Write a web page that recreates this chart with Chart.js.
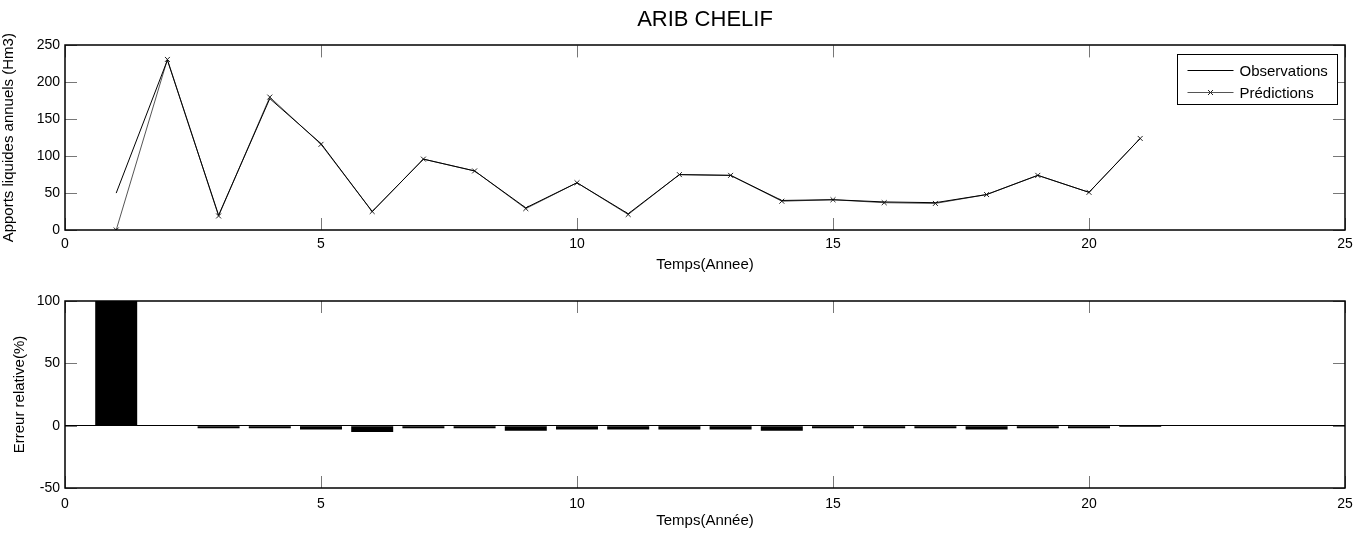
<!DOCTYPE html>
<html lang="fr">
<head>
  <meta charset="UTF-8">
  <title>ARIB CHELIF</title>
  <script src="https://cdn.jsdelivr.net/npm/chart.js"></script>
  <style>
    body {
      margin: 0;
      background: #ffffff;
      width: 1370px;
      height: 533px;
      overflow: hidden;
      position: relative;
    }
    canvas {
      position: absolute;
      left: 0;
    }
    #topChart { top: 0; }
    #bottomChart { top: 262px; }
  </style>
</head>
<body>
  <canvas id="topChart" width="1370" height="276"></canvas>
  <canvas id="bottomChart" width="1370" height="271"></canvas>
  <script>
    // Values
    const years = [1, 2, 3, 4, 5, 6, 7, 8, 9, 10, 11, 12, 13, 14, 15, 16, 17, 18, 19, 20, 21];
    const observations = [50, 230, 20, 178, 117, 25, 96, 80, 30, 64, 22, 75, 74, 40, 41, 38, 37, 48, 74, 51, 124];
    const predictions = [0, 231, 19, 180, 116, 25, 96, 80, 29, 64, 21, 75, 74, 39, 41, 37, 36, 48, 74, 51, 124];
    const relativeErrors = [100, -0.4, -2, -2, -3, -5, -2, -2, -4, -3, -3, -3, -3, -4, -2, -2, -2, -3, -2, -2, -1];

    const FONT = "'Liberation Sans', Arial, sans-serif";
    Chart.defaults.font.family = FONT;
    Chart.defaults.font.size = 14;
    Chart.defaults.color = '#000';

    const toPoints = (xs, ys) => xs.map((x, i) => ({ x: x, y: ys[i] }));

    // frame around the plot + MATLAB-style inward ticks on all four sides
    const framePlugin = {
      id: 'frame',
      afterDatasetsDraw(chart) {
        const { ctx, chartArea: a, scales } = chart;
        const L = 12;
        ctx.save();
        ctx.strokeStyle = '#777';
        ctx.lineWidth = 1;
        ctx.beginPath();
        scales.x.ticks.forEach(t => {
          const px = Math.round(scales.x.getPixelForValue(t.value)) + 0.5;
          ctx.moveTo(px, a.top); ctx.lineTo(px, a.top + L);
          ctx.moveTo(px, a.bottom); ctx.lineTo(px, a.bottom - L);
        });
        scales.y.ticks.forEach(t => {
          const py = Math.round(scales.y.getPixelForValue(t.value)) + 0.5;
          ctx.moveTo(a.left, py); ctx.lineTo(a.left + L, py);
          ctx.moveTo(a.right, py); ctx.lineTo(a.right - L, py);
        });
        ctx.stroke();
        ctx.strokeStyle = '#000';
        ctx.lineWidth = 1.5;
        ctx.strokeRect(Math.round(a.left), Math.round(a.top), Math.round(a.right - a.left), Math.round(a.bottom - a.top));
        ctx.restore();
      }
    };

    // legend box in the upper right corner of the plot
    const legendBoxPlugin = {
      id: 'legendBox',
      afterDraw(chart) {
        const { ctx, chartArea: a } = chart;
        const w = 160, h = 50;
        const x0 = Math.round(a.right - 168) + 0.5, y0 = Math.round(a.top + 9) + 0.5;
        ctx.save();
        ctx.fillStyle = '#fff';
        ctx.fillRect(x0, y0, w, h);
        ctx.strokeStyle = '#000';
        ctx.lineWidth = 1;
        ctx.strokeRect(x0, y0, w, h);
        ctx.font = '15px ' + FONT;
        ctx.textBaseline = 'middle';
        chart.data.datasets.forEach((ds, i) => {
          const y = Math.round(y0 + 15 + i * 22) + 0.5;
          ctx.strokeStyle = ds.borderColor;
          ctx.beginPath();
          ctx.moveTo(x0 + 10, y);
          ctx.lineTo(x0 + 56, y);
          ctx.stroke();
          if (ds.pointRadius > 0) {
            const cx = x0 + 33, r = 2.5;
            ctx.strokeStyle = ds.pointBorderColor;
            ctx.beginPath();
            ctx.moveTo(cx - r, y - r); ctx.lineTo(cx + r, y + r);
            ctx.moveTo(cx - r, y + r); ctx.lineTo(cx + r, y - r);
            ctx.stroke();
          }
          ctx.fillStyle = '#000';
          ctx.fillText(ds.label, x0 + 62, y + 1);
        });
        ctx.restore();
      }
    };

    const xAxis = (title, height, pad) => ({
      type: 'linear',
      min: 0,
      max: 25,
      offset: false,
      ticks: { stepSize: 5, padding: pad, maxRotation: 0, color: '#000' },
      grid: { display: false, drawTicks: false },
      border: { display: false },
      title: { display: true, text: title, font: { size: 15 }, padding: { top: 2, bottom: 2 } },
      afterFit(scale) { scale.height = height; }
    });

    // top: observations vs predictions
    new Chart(document.getElementById('topChart'), {
      type: 'line',
      data: {
        datasets: [
          {
            label: 'Observations',
            data: toPoints(years, observations),
            borderColor: '#000',
            borderWidth: 1,
            pointRadius: 0,
            tension: 0
          },
          {
            label: 'Prédictions',
            data: toPoints(years, predictions),
            borderColor: '#555',
            borderWidth: 1,
            pointStyle: 'crossRot',
            pointRadius: 3.5,
            pointBorderColor: '#222',
            pointBorderWidth: 1,
            tension: 0
          }
        ]
      },
      options: {
        responsive: false,
        animation: false,
        devicePixelRatio: 1,
        layout: { padding: { left: 0, right: 25, top: 0, bottom: 0 } },
        plugins: {
          legend: { display: false },
          tooltip: { enabled: false },
          title: {
            display: true,
            fullSize: false,
            text: 'ARIB CHELIF',
            font: { size: 22, weight: 'normal' },
            color: '#000',
            padding: { top: 7, bottom: 12 }
          }
        },
        scales: {
          x: xAxis('Temps(Annee)', 46, 6),
          y: {
            min: 0,
            max: 250,
            ticks: { stepSize: 50, padding: 5, color: '#000' },
            grid: { display: false, drawTicks: false },
            border: { display: false },
            title: { display: true, text: 'Apports liquides annuels (Hm3)', font: { size: 15 }, padding: { top: 0, bottom: 0 } },
            afterFit(scale) { scale.width = 65; }
          }
        }
      },
      plugins: [framePlugin, legendBoxPlugin]
    });

    // bottom: relative error bars
    new Chart(document.getElementById('bottomChart'), {
      type: 'bar',
      data: {
        datasets: [{
          label: 'Erreur relative',
          data: toPoints(years, relativeErrors),
          backgroundColor: '#000',
          borderWidth: 0,
          barPercentage: 0.82,
          categoryPercentage: 1
        }]
      },
      options: {
        responsive: false,
        animation: false,
        devicePixelRatio: 1,
        layout: { padding: { left: 0, right: 25, top: 39, bottom: 1 } },
        plugins: {
          legend: { display: false },
          tooltip: { enabled: false }
        },
        scales: {
          x: xAxis('Temps(Année)', 44, 8),
          y: {
            min: -50,
            max: 100,
            ticks: { stepSize: 50, padding: 5, color: '#000' },
            grid: {
              drawTicks: false,
              color: ctx => ctx.tick && ctx.tick.value === 0 ? '#000' : 'rgba(0,0,0,0)'
            },
            border: { display: false },
            title: { display: true, text: 'Erreur relative(%)', font: { size: 15 }, padding: { top: 11, bottom: 0 } },
            afterFit(scale) { scale.width = 65; }
          }
        }
      },
      plugins: [framePlugin]
    });
  </script>
</body>
</html>
